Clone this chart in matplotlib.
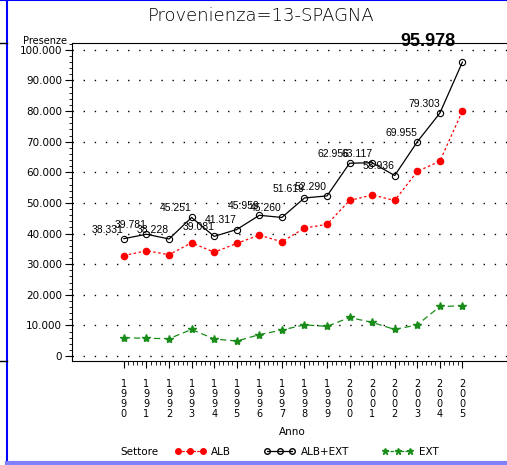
import matplotlib.pyplot as plt
from matplotlib.ticker import MultipleLocator, FuncFormatter
from matplotlib.lines import Line2D

# Data
anni = [1990, 1991, 1992, 1993, 1994, 1995, 1996, 1997,
        1998, 1999, 2000, 2001, 2002, 2003, 2004, 2005]
alb_ext = [38331, 39781, 38228, 45251, 39081, 41317, 45959, 45260,
           51619, 52290, 62956, 63117, 58936, 69955, 79303, 95978]
alb = [32800, 34400, 33100, 37000, 33900, 36800, 39500, 37300,
       41800, 43000, 50800, 52600, 50800, 60300, 63600, 80000]
ext = [6000, 5800, 5700, 8700, 5600, 4900, 7000, 8500,
       10200, 9700, 12600, 11000, 8700, 10200, 16200, 16400]


def fmt_it(v, pos=None):
    return f'{int(v):,}'.replace(',', '.')


fig = plt.figure(figsize=(5.07, 4.65), dpi=100)
ax = fig.add_axes([72 / 507, 104 / 465, 1 - 72 / 507 + 0.01, 318 / 465])

ax.plot(anni, alb, color='red', linestyle=(0, (2, 2)), linewidth=0.9,
        marker='o', markersize=4.5, markerfacecolor='red', markeredgecolor='red')
ax.plot(anni, alb_ext, color='black', linestyle='-', linewidth=0.9,
        marker='o', markersize=4.5, markerfacecolor='none', markeredgecolor='black',
        markeredgewidth=0.8)
ax.plot(anni, ext, color='#1a8c1a', linestyle=(0, (5, 3)), linewidth=0.9,
        marker='*', markersize=6, markerfacecolor='#1a8c1a', markeredgecolor='#1a8c1a')

# value labels on the ALB+EXT series
for i, (x, y) in enumerate(zip(anni, alb_ext)):
    if i == len(anni) - 1:
        ax.annotate(fmt_it(y), (x, y), xytext=(-5, 9), textcoords='offset points',
                    ha='right', va='bottom', fontsize=13, fontweight='bold',
                    family='Liberation Sans', annotation_clip=False)
    else:
        ax.annotate(fmt_it(y), (x, y), xytext=(0, 3), textcoords='offset points',
                    ha='right', va='bottom', fontsize=7.5, family='Liberation Sans')

ax.set_xlim(1987.7, 2007.2)
ax.set_ylim(-1600, 102200)
ax.spines['right'].set_visible(False)

ax.yaxis.set_major_locator(MultipleLocator(10000))
ax.yaxis.set_minor_locator(MultipleLocator(2000))
ax.yaxis.set_major_formatter(FuncFormatter(fmt_it))
ax.set_xticks(anni)
ax.set_xticks([a + k * 0.2 for a in anni[:-1] for k in range(1, 5)], minor=True)
ax.set_xticklabels(['\n'.join(str(a)) for a in anni], fontsize=7,
                   family='DejaVu Sans', linespacing=1.0)
ax.tick_params(axis='y', which='major', length=5, labelsize=7.5, pad=2)
ax.tick_params(axis='y', which='minor', length=2.5)
ax.tick_params(axis='x', which='major', length=5, pad=8)
ax.tick_params(axis='x', which='minor', length=3)

ax.grid(axis='y', color='black', linestyle=(0, (1, 7)), linewidth=1)

ax.set_xlabel('Anno', fontsize=7.5, labelpad=6)
fig.text(67 / 507, 1 - 41 / 465, 'Presenze', fontsize=7, ha='right', va='center')
fig.suptitle('Provenienza=13-SPAGNA', x=(155 + 368) / 2 / 507, y=1 - 16 / 465,
             va='center', fontsize=13, fontweight='light', color='black')

# legend
fig.text(120 / 507, 1 - 452 / 465, 'Settore', fontsize=7.5, va='center')
handles = [
    Line2D([], [], color='red', linestyle=(0, (2, 1)), linewidth=0.9, marker='o',
           markersize=4, markerfacecolor='red', markeredgecolor='red'),
    Line2D([], [], color='black', linewidth=0.9, marker='o', markersize=4,
           markerfacecolor='none', markeredgecolor='black'),
    Line2D([], [], color='#1a8c1a', linestyle=(0, (3, 1)), linewidth=0.9, marker='*',
           markersize=5, markerfacecolor='#1a8c1a', markeredgecolor='#1a8c1a'),
]
fig.legend(handles, ['ALB', 'ALB+EXT', 'EXT'], ncol=3, numpoints=3, frameon=False,
           fontsize=7.5, handlelength=3, handletextpad=0.5, columnspacing=3.2,
           loc='center left', bbox_to_anchor=(165 / 507, 1 - 452 / 465))

# page borders
fig.add_artist(Line2D([7 / 507, 7 / 507], [0, 1], color='blue', linewidth=1.5))
fig.add_artist(Line2D([0, 1], [0.999, 0.999], color='blue', linewidth=1.5))
fig.add_artist(Line2D([7 / 507, 1], [2 / 465, 2 / 465], color='#8080ff', linewidth=3))
fig.add_artist(Line2D([0, 7 / 507], [1 - 43 / 465, 1 - 43 / 465], color='black', linewidth=1))
fig.add_artist(Line2D([0, 7 / 507], [1 - 361 / 465, 1 - 361 / 465], color='black', linewidth=1))

fig.savefig('out.png', dpi=100)
